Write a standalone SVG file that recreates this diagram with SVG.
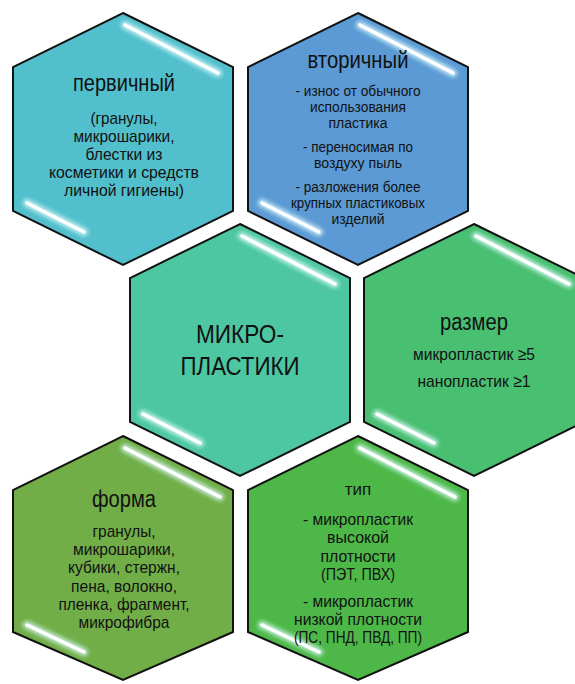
<svg xmlns="http://www.w3.org/2000/svg" width="575" height="684" viewBox="0 0 575 684">
<style>
.hex{stroke:#111;stroke-width:2;stroke-linejoin:miter}
.hl{fill:none;stroke:#fff;stroke-width:3.5;stroke-linecap:round}
.glow{fill:none;stroke:#dffcff;stroke-width:8;stroke-linecap:round;opacity:0.8;filter:url(#blur)}
text{font-family:"Liberation Sans",Arial,sans-serif;fill:#111;text-anchor:middle}
.t{font-size:23px}
.b{font-size:17px}
.s{font-size:14px}
.c{font-size:26px}
</style>
<defs>
<filter id="blur" x="-20%" y="-50%" width="140%" height="200%"><feGaussianBlur stdDeviation="2"/></filter>
</defs>
<rect width="575" height="684" fill="#fff"/>

<g id="pervichny">
<polygon class="hex" fill="#52BFCC" points="123,13 233,67 233,211 123,265 13,211 13,67"/>
<path class="glow" d="M125,25 L218,73 M27,203 L84,232"/>
<path class="hl" d="M125,25 L218,73 M27,203 L84,232"/>
<text class="t" x="124" y="91" textLength="102" lengthAdjust="spacingAndGlyphs">первичный</text>
<text class="b" x="124" y="124" textLength="67" lengthAdjust="spacingAndGlyphs">(гранулы,</text>
<text class="b" x="124" y="142" textLength="101" lengthAdjust="spacingAndGlyphs">микрошарики,</text>
<text class="b" x="124" y="160" textLength="77" lengthAdjust="spacingAndGlyphs">блестки из</text>
<text class="b" x="124" y="178" textLength="150" lengthAdjust="spacingAndGlyphs">косметики и средств</text>
<text class="b" x="124" y="196" textLength="120" lengthAdjust="spacingAndGlyphs">личной гигиены)</text>
</g>

<g id="vtorichny">
<polygon class="hex" fill="#5B9AD4" points="358,13 468,67 468,211 358,265 248,211 248,67"/>
<path class="glow" d="M360,25 L453,73 M262,203 L319,232"/>
<path class="hl" d="M360,25 L453,73 M262,203 L319,232"/>
<text class="t" x="358" y="68" textLength="101" lengthAdjust="spacingAndGlyphs">вторичный</text>
<text class="s" x="358" y="96" textLength="125" lengthAdjust="spacingAndGlyphs">- износ от обычного</text>
<text class="s" x="358" y="112" textLength="96" lengthAdjust="spacingAndGlyphs">использования</text>
<text class="s" x="358" y="128" textLength="59" lengthAdjust="spacingAndGlyphs">пластика</text>
<text class="s" x="358" y="152" textLength="110" lengthAdjust="spacingAndGlyphs">- переносимая по</text>
<text class="s" x="358" y="168" textLength="88" lengthAdjust="spacingAndGlyphs">воздуху пыль</text>
<text class="s" x="358" y="192" textLength="125" lengthAdjust="spacingAndGlyphs">- разложения более</text>
<text class="s" x="358" y="208" textLength="134" lengthAdjust="spacingAndGlyphs">крупных пластиковых</text>
<text class="s" x="358" y="224" textLength="53" lengthAdjust="spacingAndGlyphs">изделий</text>
</g>

<g id="mikroplastiki">
<polygon class="hex" fill="#4DC7A2" points="240,224 350,278 350,422 240,476 130,422 130,278"/>
<path class="glow" d="M242,236 L335,284 M143,414 L200,443"/>
<path class="hl" d="M242,236 L335,284 M143,414 L200,443"/>
<text class="c" x="240" y="343" textLength="88" lengthAdjust="spacingAndGlyphs">МИКРО-</text>
<text class="c" x="240" y="375" textLength="119" lengthAdjust="spacingAndGlyphs">ПЛАСТИКИ</text>
</g>

<g id="razmer">
<polygon class="hex" fill="#49BF71" points="474,224 584,278 584,422 474,476 364,422 364,278"/>
<path class="glow" d="M476,236 L569,284 M377,414 L434,443"/>
<path class="hl" d="M476,236 L569,284 M377,414 L434,443"/>
<text class="t" x="474" y="330" textLength="68" lengthAdjust="spacingAndGlyphs">размер</text>
<text class="b" x="474" y="360" textLength="122" lengthAdjust="spacingAndGlyphs">микропластик ≥5</text>
<text class="b" x="474" y="387" textLength="113" lengthAdjust="spacingAndGlyphs">нанопластик ≥1</text>
</g>

<g id="forma">
<polygon class="hex" fill="#71AE48" points="123,436 233,490 233,632 123,680 13,632 13,490"/>
<path class="glow" d="M125,448 L220,497 M27,625 L84,652"/>
<path class="hl" d="M125,448 L220,497 M27,625 L84,652"/>
<text class="t" x="124" y="507" textLength="64" lengthAdjust="spacingAndGlyphs">форма</text>
<text class="b" x="124" y="537" textLength="63" lengthAdjust="spacingAndGlyphs">гранулы,</text>
<text class="b" x="124" y="555" textLength="102" lengthAdjust="spacingAndGlyphs">микрошарики,</text>
<text class="b" x="124" y="573" textLength="112" lengthAdjust="spacingAndGlyphs">кубики,  стержн,</text>
<text class="b" x="124" y="592" textLength="106" lengthAdjust="spacingAndGlyphs">пена, волокно,</text>
<text class="b" x="124" y="610" textLength="131" lengthAdjust="spacingAndGlyphs">пленка, фрагмент,</text>
<text class="b" x="124" y="628" textLength="91" lengthAdjust="spacingAndGlyphs">микрофибра</text>
</g>

<g id="tip">
<polygon class="hex" fill="#4DB848" points="358,436 468,490 468,632 358,680 248,632 248,490"/>
<path class="glow" d="M360,448 L455,497 M262,625 L319,652"/>
<path class="hl" d="M360,448 L455,497 M262,625 L319,652"/>
<text class="b" x="358" y="495">тип</text>
<text class="b" x="358" y="525" textLength="110" lengthAdjust="spacingAndGlyphs">- микропластик</text>
<text class="b" x="358" y="543" textLength="62" lengthAdjust="spacingAndGlyphs">высокой</text>
<text class="b" x="358" y="562" textLength="75" lengthAdjust="spacingAndGlyphs">плотности</text>
<text class="b" x="358" y="580" textLength="74" lengthAdjust="spacingAndGlyphs">(ПЭТ, ПВХ)</text>
<text class="b" x="358" y="607" textLength="110" lengthAdjust="spacingAndGlyphs">- микропластик</text>
<text class="b" x="358" y="625" textLength="128" lengthAdjust="spacingAndGlyphs">низкой плотности</text>
<text class="b" x="358" y="643" textLength="128" lengthAdjust="spacingAndGlyphs">(ПС, ПНД, ПВД, ПП)</text>
</g>

<g id="connectors"></g>
</svg>
